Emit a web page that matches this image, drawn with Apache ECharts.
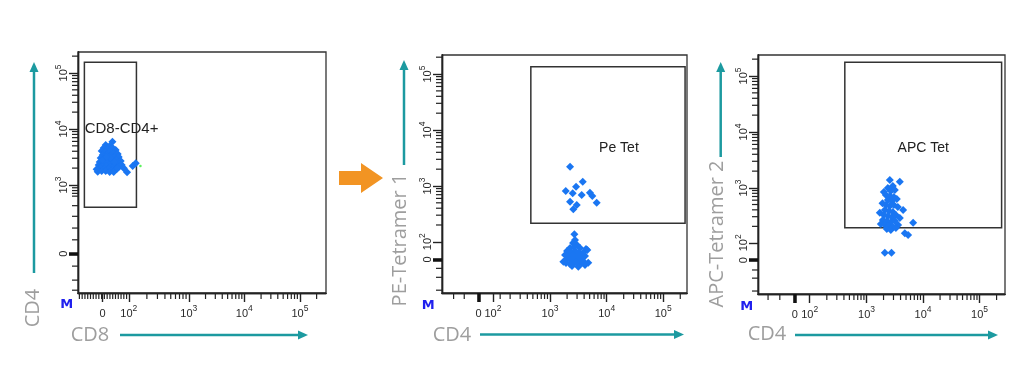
<!DOCTYPE html>
<html><head><meta charset="utf-8">
<script src="https://cdn.jsdelivr.net/npm/echarts@6/dist/echarts.min.js"></script>
<style>html,body{margin:0;padding:0;background:#fff}#chart{width:1024px;height:367px}</style>
</head><body><div id="chart"></div>
<script>
// All values are in display units of the biexponential axes (1 unit = 1 decade, 3 = 10^3).

// Panel 1: CD8 (x) vs CD4 (y)
const cd8cd4Points = [
 [1.504,3.714],[1.625,3.773],[1.576,3.696],[1.468,3.661],[1.540,3.643],[1.630,3.661],[1.684,3.625],
 [1.432,3.607],[1.504,3.589],[1.576,3.589],[1.648,3.571],[1.720,3.554],[1.450,3.536],[1.522,3.536],
 [1.594,3.518],[1.666,3.500],[1.738,3.500],[1.414,3.482],[1.486,3.464],[1.558,3.464],[1.630,3.446],
 [1.702,3.446],[1.774,3.429],[1.396,3.411],[1.468,3.411],[1.540,3.393],[1.612,3.393],[1.684,3.375],
 [1.756,3.375],[1.378,3.357],[1.450,3.339],[1.522,3.339],[1.594,3.321],[1.666,3.339],[1.738,3.321],
 [1.792,3.357],[1.414,3.304],[1.486,3.286],[1.558,3.286],[1.630,3.268],[1.702,3.286],[1.360,3.238],
 [1.432,3.250],[1.504,3.250],[1.576,3.232],[1.648,3.232],[1.450,3.446],[1.594,3.482],[1.522,3.500],
 [1.666,3.411],[1.888,3.227],[2.045,3.388],[1.990,3.339],[1.720,3.304],[1.830,3.300],[1.340,3.280]
];
const strayPoints = [[2.129, 3.34]];

// Panel 2: CD4 (x) vs PE-Tetramer 1 (y)
const peTetPoints = [
 [3.353,3.345],[3.577,3.077],[3.459,2.988],[3.277,2.911],[3.400,2.870],[3.559,2.839],[3.705,2.880],
 [3.746,2.821],[3.353,2.720],[3.824,2.702],[3.471,2.661],[3.411,2.584],
 [3.429,2.138],[3.441,2.036],[3.406,1.982],[3.476,1.946],[3.353,1.893],[3.423,1.911],[3.529,1.893],
 [3.635,1.875],[3.300,1.839],[3.370,1.821],[3.441,1.839],[3.511,1.821],[3.582,1.804],[3.658,1.857],
 [3.265,1.768],[3.335,1.750],[3.406,1.768],[3.476,1.750],[3.547,1.732],[3.617,1.750],[3.235,1.648],
 [3.300,1.696],[3.370,1.679],[3.441,1.696],[3.511,1.679],[3.582,1.661],[3.675,1.630],[3.282,1.625],
 [3.353,1.607],[3.423,1.625],[3.494,1.607],[3.564,1.625],[3.388,1.571],[3.499,1.559],[3.617,1.589],
 [3.317,1.714],[3.459,1.643],[3.529,1.768]
];

// Panel 3: CD4 (x) vs APC-Tetramer 2 (y)
const apcTetPoints = [
 [3.412,3.143],[3.589,3.113],[3.377,3.000],[3.465,3.036],[3.430,2.946],[3.501,2.964],[3.342,2.875],
 [3.412,2.857],[3.483,2.839],[3.377,2.786],[3.448,2.768],[3.536,2.804],[3.283,2.727],[3.342,2.696],
 [3.412,2.679],[3.483,2.696],[3.554,2.661],[3.648,2.607],[3.324,2.607],[3.395,2.589],[3.465,2.571],
 [3.235,2.559],[3.306,2.518],[3.377,2.500],[3.448,2.482],[3.519,2.518],[3.589,2.464],[3.288,2.429],
 [3.359,2.411],[3.430,2.393],[3.501,2.411],[3.825,2.380],[3.253,2.357],[3.324,2.339],[3.395,2.321],
 [3.559,2.339],[3.465,2.304],[3.359,2.268],[3.430,2.250],[3.678,2.191],[3.736,2.161],[3.324,1.845],
 [3.442,1.845],[3.519,2.286],[3.306,2.929]
];

// Gates: [x1, y1, x2, y2]
const gateNames = ['CD8-CD4+', 'Pe Tet', 'APC Tet'];
const gate1 = [1.12, 5.19, 2.057, 2.60];
const gate2 = [2.66, 5.13, 5.386, 2.334];
const gate3 = [2.616, 5.245, 5.39, 2.29];

// Axis titles
const xTitles = ['CD8', 'CD4', 'CD4'];
const yTitles = ['CD4', 'PE-Tetramer 1', 'APC-Tetramer 2'];

// Tick labels and their positions on each axis
const tickText = ['0', '10^2', '10^3', '10^4', '10^5'];
const p1xTicks = [1.445, 1.92, 3, 4, 5];
const p1yTicks = [1.77, null, 3, 4, 5];
const p2xTicks = [1.735, 1.99, 3, 4, 5];
const p2yTicks = [1.69, 2.005, 3, 4, 5];
const p3xTicks = [1.73, 1.995, 3, 4, 5];
const p3yTicks = [1.71, 2.02, 3, 4, 5];

function logMinors(lo, hi) {
  const out = [];
  for (let m = 2; m <= 9; m++) out.push(lo + (hi - lo) * Math.log10(m));
  return out;
}
function decadeMinors(ticks, extra) {
  let out = [];
  if (ticks[1] != null) out = out.concat(logMinors(ticks[1], 3));
  out = out.concat(logMinors(3, 4), logMinors(4, 5));
  out.push(5 + Math.log10(2));
  out = out.concat(extra);
  return out.sort((a, b) => a - b);
}
const denseLow = [];
for (let v = 1.03; v < 1.9; v += 0.05) denseLow.push(v);

const axisCfg = {
  p1x: {min: 1.005, max: 5.47, ticks: p1xTicks, zero: null, minor: decadeMinors(p1xTicks, denseLow)},
  p1y: {min: 1.07, max: 5.375, ticks: p1yTicks, zero: 1.77, minor: decadeMinors(p1yTicks, [2.95, 2.90, 2.85, 2.80, 2.63, 2.44, 2.23, 2.02, 1.55, 1.30, 1.12])},
  p2x: {min: 1.09, max: 5.42, ticks: p2xTicks, zero: 1.735, minor: decadeMinors(p2xTicks, [1.295, 1.483, 2.118])},
  p2y: {min: 1.09, max: 5.34, ticks: p2yTicks, zero: 1.69, minor: decadeMinors(p2yTicks, [1.53, 1.37, 1.14])},
  p3x: {min: 1.08, max: 5.45, ticks: p3xTicks, zero: 1.73, minor: decadeMinors(p3xTicks, [1.258, 1.466])},
  p3y: {min: 1.107, max: 5.375, ticks: p3yTicks, zero: 1.71, minor: decadeMinors(p3yTicks, [1.536, 1.39, 1.16])}
};

const rich = {
  b: {fontSize: 11, lineHeight: 15, verticalAlign: 'bottom', fontFamily: 'Liberation Sans', color: '#2a2a2a'},
  s: {fontSize: 8.5, lineHeight: 7, verticalAlign: 'top', fontFamily: 'Liberation Sans', color: '#2a2a2a'}
};

function buildAxes(isY, gridIndex, cfg) {
  const vals = [], texts = [];
  cfg.ticks.forEach((v, i) => { if (v != null) { vals.push(v); texts.push(tickText[i]); } });
  const common = {type: 'value', gridIndex, min: cfg.min, max: cfg.max, position: isY ? 'left' : 'bottom', splitLine: {show: false}};
  const line = {show: true, onZero: false, lineStyle: {color: '#222', width: 1.4}};
  const zeroVals = cfg.zero != null ? [cfg.zero] : [];
  return [
    Object.assign({}, common, {
      axisLine: line,
      axisTick: {show: true, customValues: vals, length: 9, lineStyle: {color: '#222', width: 1.4}},
      axisLabel: {
        show: true, customValues: vals, rotate: isY ? 90 : 0, margin: isY ? 9 : 11, rich, fontSize: 11,
        formatter: (v) => {
          let t = '';
          vals.forEach((x, i) => { if (Math.abs(x - v) < 1e-6) t = texts[i]; });
          if (t.indexOf('^') >= 0) { const p = t.split('^'); return '{b|' + p[0] + '}{s|' + p[1] + '}'; }
          return '{b|' + t + '}';
        }
      }
    }),
    Object.assign({}, common, {
      axisLine: line,
      axisTick: {show: zeroVals.length > 0, customValues: zeroVals, length: 9, lineStyle: {color: '#111', width: 3.5}},
      axisLabel: {show: false}
    })
  ];
}

const xAxes = [].concat(buildAxes(false, 0, axisCfg.p1x), buildAxes(false, 1, axisCfg.p2x), buildAxes(false, 2, axisCfg.p3x));
const yAxes = [].concat(buildAxes(true, 0, axisCfg.p1y), buildAxes(true, 1, axisCfg.p2y), buildAxes(true, 2, axisCfg.p3y));

// Minor ticks drawn through the axes' own scales with a custom series (outside the plot frame)
function minorTickSeries(idx, xc, yc) {
  const data = [];
  xc.minor.forEach(v => { if (v > xc.min && v < xc.max) data.push([v, yc.min, 0]); });
  yc.minor.forEach(v => { if (v > yc.min && v < yc.max) data.push([xc.min, v, 1]); });
  return {
    type: 'custom', xAxisIndex: idx * 2, yAxisIndex: idx * 2, silent: true, clip: false, z: 5,
    data,
    renderItem: (params, api) => {
      const pt = api.coord([api.value(0), api.value(1)]);
      const isYTick = api.value(2) === 1;
      const shape = isYTick
        ? {x1: pt[0] - 6, y1: pt[1], x2: pt[0], y2: pt[1]}
        : {x1: pt[0], y1: pt[1], x2: pt[0], y2: pt[1] + 6};
      return {type: 'line', shape, style: {stroke: '#222', lineWidth: 1.2}};
    }
  };
}

const dotColor = '#1a76f2';
function gateArea(g, name, labelPos, labelOffset, fontSize) {
  return {
    silent: true,
    itemStyle: {color: 'rgba(0,0,0,0)', borderColor: '#333', borderWidth: 1.5},
    label: {show: true, position: labelPos, offset: labelOffset, color: '#222', fontSize, fontFamily: 'Liberation Sans'},
    data: [[{name, xAxis: g[0], yAxis: g[1]}, {xAxis: g[2], yAxis: g[3]}]]
  };
}
function scatter(idx, data, area) {
  return {
    type: 'scatter', xAxisIndex: idx * 2, yAxisIndex: idx * 2, data,
    symbol: 'diamond', symbolSize: 8, itemStyle: {color: dotColor, opacity: 1},
    markArea: area, z: 3
  };
}

const teal = '#1c9aa0';
function arrowV(x, yBottom, yTip) {
  return [
    {type: 'line', shape: {x1: x, y1: yBottom, x2: x, y2: yTip + 8}, style: {stroke: teal, lineWidth: 2.5}},
    {type: 'polygon', shape: {points: [[x, yTip], [x - 4.5, yTip + 10], [x + 4.5, yTip + 10]]}, style: {fill: teal}}
  ];
}
function arrowH(y, xStart, xTip) {
  return [
    {type: 'line', shape: {x1: xStart, y1: y, x2: xTip - 8, y2: y}, style: {stroke: teal, lineWidth: 2.5}},
    {type: 'polygon', shape: {points: [[xTip, y], [xTip - 10, y - 4.5], [xTip - 10, y + 4.5]]}, style: {fill: teal}}
  ];
}
function title(text, x, y, rot) {
  return {type: 'text', x, y, rotation: rot ? Math.PI / 2 : 0,
    style: {text, fill: '#9e9e9e', font: '20px "Open Sans"', align: 'center', verticalAlign: 'middle'}};
}
function mark(x, y) {
  return {type: 'text', x, y, style: {text: 'M', fill: '#2020ee', font: 'bold 13px "DejaVu Sans"', align: 'center', verticalAlign: 'middle'}};
}

const graphics = [].concat(
  arrowV(34, 273, 62), arrowH(335, 120, 308),
  arrowV(404, 165, 60), arrowH(334.5, 480, 684),
  arrowV(720.7, 157, 62), arrowH(335, 795, 998),
  [
    title(yTitles[0], 33.5, 308, true), title(xTitles[0], 90, 335, false),
    title(yTitles[1], 400, 240, true), title(xTitles[1], 452, 335, false),
    title(yTitles[2], 717, 234, true), title(xTitles[2], 767, 334.5, false),
    mark(66.7, 305), mark(428.3, 306), mark(746.7, 306.7),
    {type: 'polygon', shape: {points: [[339, 171], [361, 171], [361, 163], [383, 178], [361, 193], [361, 185], [339, 185]]}, style: {fill: '#f29423'}}
  ]
);

const chart = echarts.init(document.getElementById('chart'), null, {renderer: 'canvas'});
chart.setOption({
  animation: false,
  backgroundColor: '#fff',
  grid: [
    {left: 78, top: 52, width: 248, height: 241, show: true, borderColor: '#333', borderWidth: 1.3},
    {left: 442, top: 55, width: 245, height: 238, show: true, borderColor: '#333', borderWidth: 1.3},
    {left: 758, top: 55, width: 247, height: 239, show: true, borderColor: '#333', borderWidth: 1.3}
  ],
  xAxis: xAxes,
  yAxis: yAxes,
  series: [
    scatter(0, cd8cd4Points, gateArea(gate1, gateNames[0], 'insideLeft', [-4, -6], 15)),
    {type: 'scatter', xAxisIndex: 0, yAxisIndex: 0, data: strayPoints, symbolSize: 2.5, itemStyle: {color: '#33ee33'}},
    scatter(1, peTetPoints, gateArea(gate2, gateNames[1], 'inside', [11, 3], 14)),
    scatter(2, apcTetPoints, gateArea(gate3, gateNames[2], 'inside', [0, 3], 14)),
    minorTickSeries(0, axisCfg.p1x, axisCfg.p1y),
    minorTickSeries(1, axisCfg.p2x, axisCfg.p2y),
    minorTickSeries(2, axisCfg.p3x, axisCfg.p3y)
  ],
  graphic: graphics
});
</script></body></html>
